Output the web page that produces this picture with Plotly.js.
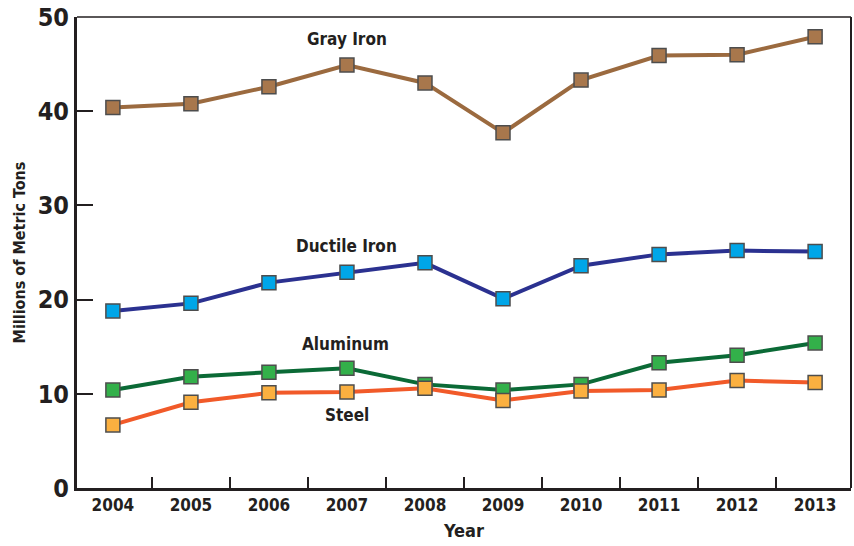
<!DOCTYPE html>
<html>
<head>
<meta charset="utf-8">
<script src="https://cdn.plot.ly/plotly-3.0.1.min.js"></script>
<style>html,body{margin:0;padding:0;background:#fff;}#chart{width:854px;height:546px;}</style>
</head>
<body>
<div id="chart"></div>
<script>
const years = ['2004','2005','2006','2007','2008','2009','2010','2011','2012','2013'];
const grayIron = [40.4, 40.8, 42.6, 44.9, 43.0, 37.7, 43.3, 45.9, 46.0, 47.9];
const ductileIron = [18.8, 19.6, 21.8, 22.9, 23.9, 20.1, 23.6, 24.8, 25.2, 25.1];
const aluminum = [10.4, 11.8, 12.3, 12.7, 11.0, 10.4, 11.0, 13.3, 14.1, 15.4];
const steel = [6.7, 9.1, 10.1, 10.2, 10.6, 9.3, 10.3, 10.4, 11.4, 11.2];
const yTicks = [0, 10, 20, 30, 40, 50];

const FONT = '"Liberation Sans Narrow", "DejaVu Sans Condensed", "Arial Narrow", sans-serif';

function series(name, y, lineColor, markerColor) {
  return {
    type: 'scatter', mode: 'lines+markers', name: name,
    x: years, y: y,
    line: {color: lineColor, width: 4},
    marker: {symbol: 'square', size: 14, color: markerColor, line: {color: '#4d4d4d', width: 1.5}},
    hoverinfo: 'x+y+name'
  };
}

const data = [
  series('Gray Iron', grayIron, '#9b6a3f', '#a8774c'),
  series('Ductile Iron', ductileIron, '#2b3190', '#00a6e8'),
  series('Aluminum', aluminum, '#0b6a36', '#33b04a'),
  series('Steel', steel, '#f15a29', '#fbb040')
];

function label(text, x, y) {
  return {text: text, xref: 'x', yref: 'y', x: x, y: y, showarrow: false,
    font: {family: FONT, size: 17, color: '#231f20', weight: 'bold'}};
}

const layout = {
  width: 854, height: 546,
  margin: {l: 77, r: 3, t: 17, b: 58},
  paper_bgcolor: '#fff', plot_bgcolor: '#fff',
  showlegend: false,
  xaxis: {
    type: 'category', range: [-0.46, 9.46],
    showline: true, linecolor: '#231f20', linewidth: 3,
    ticks: 'inside', tickson: 'boundaries', ticklen: 11, tickwidth: 2, tickcolor: '#231f20',
    tickfont: {family: FONT, size: 17, color: '#231f20', weight: 'bold'},
    showgrid: false, zeroline: false,
    title: {text: 'Year', standoff: 10, font: {family: FONT, size: 18, color: '#231f20', weight: 'bold'}}
  },
  yaxis: {
    range: [0, 50], tickvals: yTicks,
    showline: true, linecolor: '#231f20', linewidth: 3,
    ticks: 'inside', ticklen: 16, tickwidth: 2, tickcolor: '#231f20',
    tickfont: {family: FONT, size: 25, color: '#231f20', weight: 'bold'},
    showgrid: false, zeroline: false,
    title: {text: 'Millions of Metric Tons', standoff: 9, font: {family: FONT, size: 16, color: '#231f20', weight: 'bold'}}
  },
  shapes: [
    {type: 'line', xref: 'paper', yref: 'paper', x0: 0, x1: 1, y0: 1, y1: 1, line: {color: '#231f20', width: 1.5}},
    {type: 'line', xref: 'paper', yref: 'paper', x0: 1, x1: 1, y0: 0, y1: 1, line: {color: '#231f20', width: 2}}
  ],
  annotations: [
    label('Gray Iron', 3.0, 47.7),
    label('Ductile Iron', 3.0, 25.7),
    label('Aluminum', 2.98, 15.3),
    label('Steel', 3.0, 7.7)
  ]
};

Plotly.newPlot('chart', data, layout, {displayModeBar: false});
</script>
</body>
</html>
